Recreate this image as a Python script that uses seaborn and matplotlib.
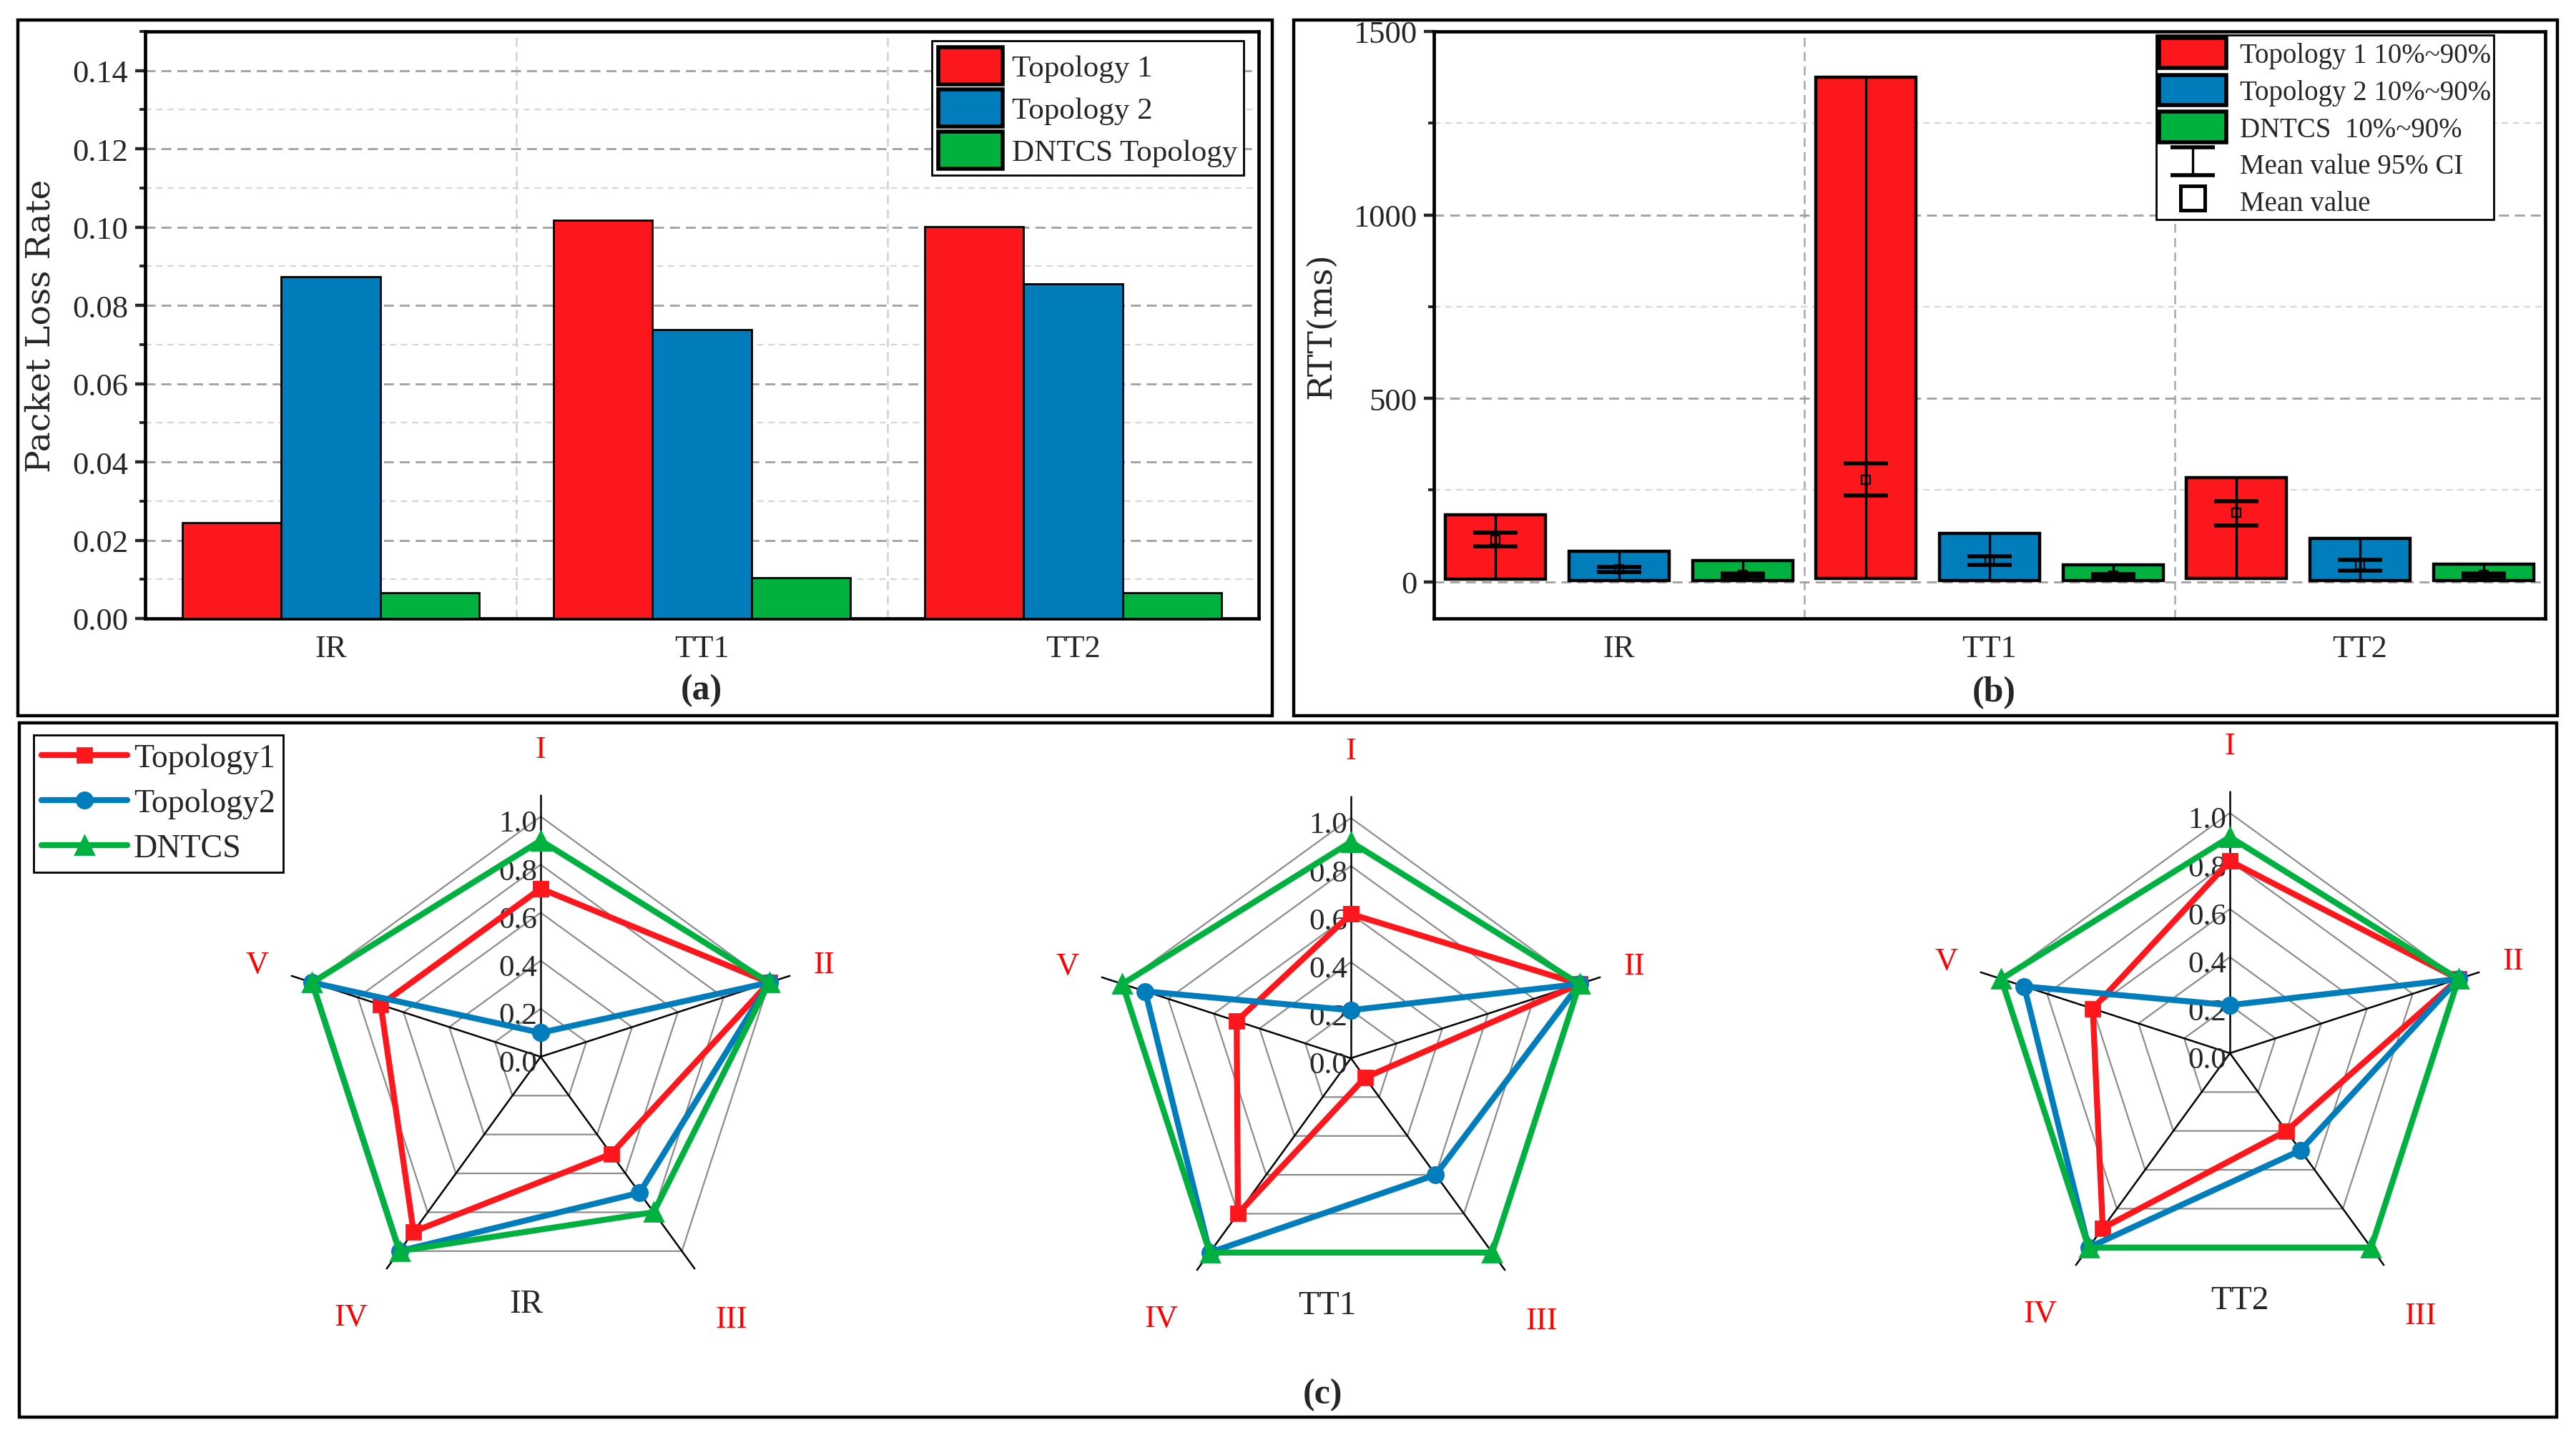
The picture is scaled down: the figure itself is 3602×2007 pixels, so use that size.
import matplotlib

matplotlib.use("Agg")
import matplotlib.pyplot as plt
import numpy as np
import pandas as pd
import seaborn as sns
from matplotlib.lines import Line2D
from matplotlib.patches import Patch, Rectangle
from matplotlib.ticker import MultipleLocator

# ---- data: panel (a) packet loss rate ----
categories = ["IR", "TT1", "TT2"]
series_a = ["Topology 1", "Topology 2", "DNTCS Topology"]
loss_topo1 = [0.0244, 0.1018, 0.1002]
loss_topo2 = [0.0873, 0.0738, 0.0855]
loss_dntcs = [0.0065, 0.0104, 0.0065]

# ---- data: panel (b) RTT (ms), box = 10%~90%, mean and 95% CI ----
series_b = ["Topology 1 10%~90%", "Topology 2 10%~90%", "DNTCS  10%~90%"]
rtt_p10_topo1 = [8, 10, 10]
rtt_p90_topo1 = [183, 1375, 283]
rtt_mean_topo1 = [115, 279, 189]
rtt_cilo_topo1 = [96, 236, 154]
rtt_cihi_topo1 = [134, 323, 220]

rtt_p10_topo2 = [3, 3, 3]
rtt_p90_topo2 = [84, 132, 119]
rtt_mean_topo2 = [35, 59, 46]
rtt_cilo_topo2 = [27, 47, 31]
rtt_cihi_topo2 = [41, 70, 60]

rtt_p10_dntcs = [4, 4, 4]
rtt_p90_dntcs = [58, 46, 49]
rtt_mean_dntcs = [18, 17, 18]
rtt_cilo_dntcs = [13, 12, 13]
rtt_cihi_dntcs = [23, 21, 22]

# ---- data: panel (c) radar charts ----
radar_axes = ["I", "II", "III", "IV", "V"]
radar_series = ["Topology1", "Topology2", "DNTCS"]
radar_ir_topo1 = [0.7, 1.0, 0.5, 0.9, 0.7]
radar_ir_topo2 = [0.1, 1.0, 0.7, 1.0, 1.0]
radar_ir_dntcs = [0.9, 1.0, 0.8, 1.0, 1.0]
radar_tt1_topo1 = [0.6, 1.0, 0.1, 0.8, 0.5]
radar_tt1_topo2 = [0.2, 1.0, 0.6, 1.0, 0.9]
radar_tt1_dntcs = [0.9, 1.0, 1.0, 1.0, 1.0]
radar_tt2_topo1 = [0.8, 1.0, 0.4, 0.9, 0.6]
radar_tt2_topo2 = [0.2, 1.0, 0.5, 1.0, 0.9]
radar_tt2_dntcs = [0.9, 1.0, 1.0, 1.0, 1.0]
radar_ticks = [0.0, 0.2, 0.4, 0.6, 0.8, 1.0]

colors = ["#fc171d", "#027dbc", "#00b140"]

sns.set_theme(style="white")
plt.rcParams["font.family"] = ["Liberation Serif", "DejaVu Serif"]
plt.rcParams["axes.unicode_minus"] = False

W, H = 3602, 2008
fig = plt.figure(figsize=(W / 200, H / 200), dpi=200)


def px_rect(left, top, right, bottom):
    return [left / W, (H - bottom) / H, (right - left) / W, (bottom - top) / H]


# panel frames
for l, t, r, b in [(25, 29, 1779, 1002), (1809, 29, 3576, 1002), (27, 1012, 3575, 1983)]:
    fig.patches.append(
        Rectangle((l / W, (H - b) / H), (r - l) / W, (b - t) / H, transform=fig.transFigure,
                  fill=False, edgecolor="black", linewidth=1.6)
    )


def style_axes(ax):
    for s in ax.spines.values():
        s.set_visible(True)
        s.set_color("black")
        s.set_linewidth(1.7)
    ax.tick_params(axis="y", which="major", direction="out", length=5, width=1.6, labelsize=16, left=True)
    ax.tick_params(axis="y", which="minor", direction="out", length=3, width=1.4, left=True)
    ax.tick_params(axis="x", length=0, labelsize=16, pad=8)
    ax.grid(False)


# ---- (a) ----
ax_a = fig.add_axes(px_rect(203, 45, 1760, 866))
df_a = pd.DataFrame({
    "category": categories * 3,
    "series": np.repeat(series_a, len(categories)),
    "value": loss_topo1 + loss_topo2 + loss_dntcs,
})
sns.barplot(data=df_a, x="category", y="value", hue="series", palette=colors, saturation=1,
            edgecolor="black", linewidth=1.0, ax=ax_a, zorder=3)
style_axes(ax_a)
ax_a.set_ylim(0, 0.15)
ax_a.set_xlim(-0.5, 2.5)
ax_a.yaxis.set_major_locator(MultipleLocator(0.02))
ax_a.yaxis.set_minor_locator(MultipleLocator(0.01))
ax_a.yaxis.set_major_formatter(matplotlib.ticker.FormatStrFormatter("%.2f"))
ax_a.grid(True, axis="y", which="major", linestyle=(0, (5, 3)), color="#a0a0a0", linewidth=1.0, zorder=0)
ax_a.grid(True, axis="y", which="minor", linestyle=(0, (4, 3)), color="#d6d6d6", linewidth=0.8, zorder=0)
for xv in [0.5, 1.5]:
    ax_a.axvline(xv, linestyle=(0, (5, 3)), color="#d0d0d0", linewidth=0.9, zorder=0)
ax_a.set_xlabel("")
ax_a.set_ylabel("Packet Loss Rate", fontsize=17, family=["DejaVu Serif"], labelpad=8)
handles, labels = ax_a.get_legend_handles_labels()
ax_a.legend(handles, labels, loc="upper right", bbox_to_anchor=(1 - 21 / 1557, 1 - 13 / 821),
            borderaxespad=0, fontsize=15.5, frameon=True, fancybox=False, framealpha=1,
            edgecolor="black", handlelength=2.1, handleheight=1.5, labelspacing=0.15,
            borderpad=0.2, handletextpad=0.3)
ax_a.get_legend().get_frame().set_linewidth(1.0)
for p in ax_a.get_legend().get_patches():
    p.set_linewidth(2.0)
fig.text(981 / W, 1 - 966 / H, "(a)", ha="center", va="center", fontsize=18, fontweight="bold")

# ---- (b) ----
ax_b = fig.add_axes(px_rect(2005, 45, 3559, 866))
style_axes(ax_b)
x_base = np.arange(len(categories))
offsets = [-1 / 3, 0, 1 / 3]
box_width = 0.27
rtt_groups = [
    (rtt_p10_topo1, rtt_p90_topo1, rtt_mean_topo1, rtt_cilo_topo1, rtt_cihi_topo1),
    (rtt_p10_topo2, rtt_p90_topo2, rtt_mean_topo2, rtt_cilo_topo2, rtt_cihi_topo2),
    (rtt_p10_dntcs, rtt_p90_dntcs, rtt_mean_dntcs, rtt_cilo_dntcs, rtt_cihi_dntcs),
]
ci_handle = None
for i, (p10, p90, mean, cilo, cihi) in enumerate(rtt_groups):
    xs = x_base + offsets[i]
    p10 = np.array(p10)
    p90 = np.array(p90)
    mean = np.array(mean)
    ax_b.bar(xs, p90 - p10, bottom=p10, width=box_width, color=colors[i], edgecolor="black",
             linewidth=1.6, zorder=3)
    ax_b.vlines(xs, p10, p90, color="black", linewidth=1.2, zorder=4)
    eb = ax_b.errorbar(xs, mean, yerr=[mean - np.array(cilo), np.array(cihi) - mean], fmt="none",
                       ecolor="black", elinewidth=1.2, capsize=11, capthick=2.0, zorder=5)
    if ci_handle is None:
        ci_handle = eb
    ax_b.plot(xs, mean, linestyle="none", marker="s", markersize=4.5, markerfacecolor="none",
              markeredgecolor="black", markeredgewidth=0.8, zorder=6)
ax_b.set_ylim(-100, 1500)
ax_b.set_xlim(-0.5, 2.5)
ax_b.set_xticks(x_base)
ax_b.set_xticklabels(categories)
ax_b.yaxis.set_major_locator(MultipleLocator(500))
ax_b.yaxis.set_minor_locator(MultipleLocator(250))
ax_b.grid(True, axis="y", which="major", linestyle=(0, (5, 3)), color="#a0a0a0", linewidth=1.0, zorder=0)
ax_b.grid(True, axis="y", which="minor", linestyle=(0, (4, 3)), color="#d6d6d6", linewidth=0.8, zorder=0)
for xv in [0.5, 1.5]:
    ax_b.axvline(xv, linestyle=(0, (5, 3)), color="#a8a8a8", linewidth=0.9, zorder=0)
ax_b.set_ylabel("RTT(ms)", fontsize=17, family=["DejaVu Serif"], labelpad=8)
handles_b = [Patch(facecolor=c, edgecolor="black", linewidth=2.0) for c in colors]
handles_b += [ci_handle, Line2D([], [], linestyle="none", marker="s", markersize=12,
                                markerfacecolor="none", markeredgecolor="black", markeredgewidth=1.8)]
labels_b = series_b + ["Mean value 95% CI", "Mean value"]
leg_b = ax_b.legend(handles_b, labels_b, loc="upper right", bbox_to_anchor=(1 - 72 / 1554, 1 - 5 / 821),
                    borderaxespad=0, fontsize=14, frameon=True, fancybox=False, framealpha=1,
                    edgecolor="black", handlelength=2.4, handleheight=1.3, labelspacing=0.22,
                    borderpad=0.1, handletextpad=0.5)
leg_b.get_frame().set_linewidth(1.0)
fig.text(2788 / W, 1 - 969 / H, "(b)", ha="center", va="center", fontsize=18, fontweight="bold")

# ---- (c) radar charts ----
R_PX = 336
HALF = 1.5
angles = np.deg2rad(np.arange(len(radar_axes)) * 360 / len(radar_axes))
sx, sy = np.sin(angles), np.cos(angles)

radar_sets = [
    ("IR", (756, 1479), -0.06, [radar_ir_topo1, radar_ir_topo2, radar_ir_dntcs]),
    ("TT1", (1889, 1481), -0.10, [radar_tt1_topo1, radar_tt1_topo2, radar_tt1_dntcs]),
    ("TT2", (3118, 1474), 0.04, [radar_tt2_topo1, radar_tt2_topo2, radar_tt2_dntcs]),
]
markers = ["s", "o", "^"]
msizes = [7, 8, 9.5]
label_r = [1.28, 1.24, 1.35, 1.34, 1.24]
line_handles = []
for name, (cx, cy), name_dx, values in radar_sets:
    hs = HALF * R_PX
    ax = fig.add_axes(px_rect(cx - hs, cy - hs, cx + hs, cy + hs))
    ax.set_xlim(-HALF, HALF)
    ax.set_ylim(-HALF, HALF)
    ax.set_aspect("equal")
    ax.axis("off")
    for r in radar_ticks[1:]:
        ax.plot(np.append(r * sx, r * sx[0]), np.append(r * sy, r * sy[0]), color="#8c8c8c",
                linewidth=0.8, zorder=1)
    for a_x, a_y in zip(sx, sy):
        ax.plot([0, 1.09 * a_x], [0, 1.09 * a_y], color="black", linewidth=0.9, zorder=2)
    for r in radar_ticks:
        ax.text(-0.015, r - 0.03, f"{r:.1f}", ha="right", va="center", fontsize=15.5, zorder=2)
    line_handles = []
    for k, vals in enumerate(values):
        v = np.array(vals)
        (ln,) = ax.plot(np.append(v * sx, v[0] * sx[0]), np.append(v * sy, v[0] * sy[0]),
                        color=colors[k], linewidth=3, marker=markers[k], markersize=msizes[k],
                        zorder=3 + k, label=radar_series[k])
        line_handles.append(ln)
    for lab, a_x, a_y, rr in zip(radar_axes, sx, sy, label_r):
        ax.text(rr * a_x, rr * a_y, lab, ha="center", va="center", color="red", fontsize=16)
    ax.text(name_dx, -1.03, name, ha="center", va="center", fontsize=17)

leg_c = fig.legend(line_handles, radar_series, loc="upper left", bbox_to_anchor=(47 / W, 1 - 1029 / H),
                   borderaxespad=0, fontsize=16.5, frameon=True, fancybox=False, framealpha=1,
                   edgecolor="black", handlelength=2.6, labelspacing=0.45, borderpad=0.25,
                   handletextpad=0.2)
leg_c.get_frame().set_linewidth(1.0)
fig.text(1849 / W, 1 - 1951 / H, "(c)", ha="center", va="center", fontsize=18, fontweight="bold")

fig.savefig("out.png", dpi=200, facecolor="white")
